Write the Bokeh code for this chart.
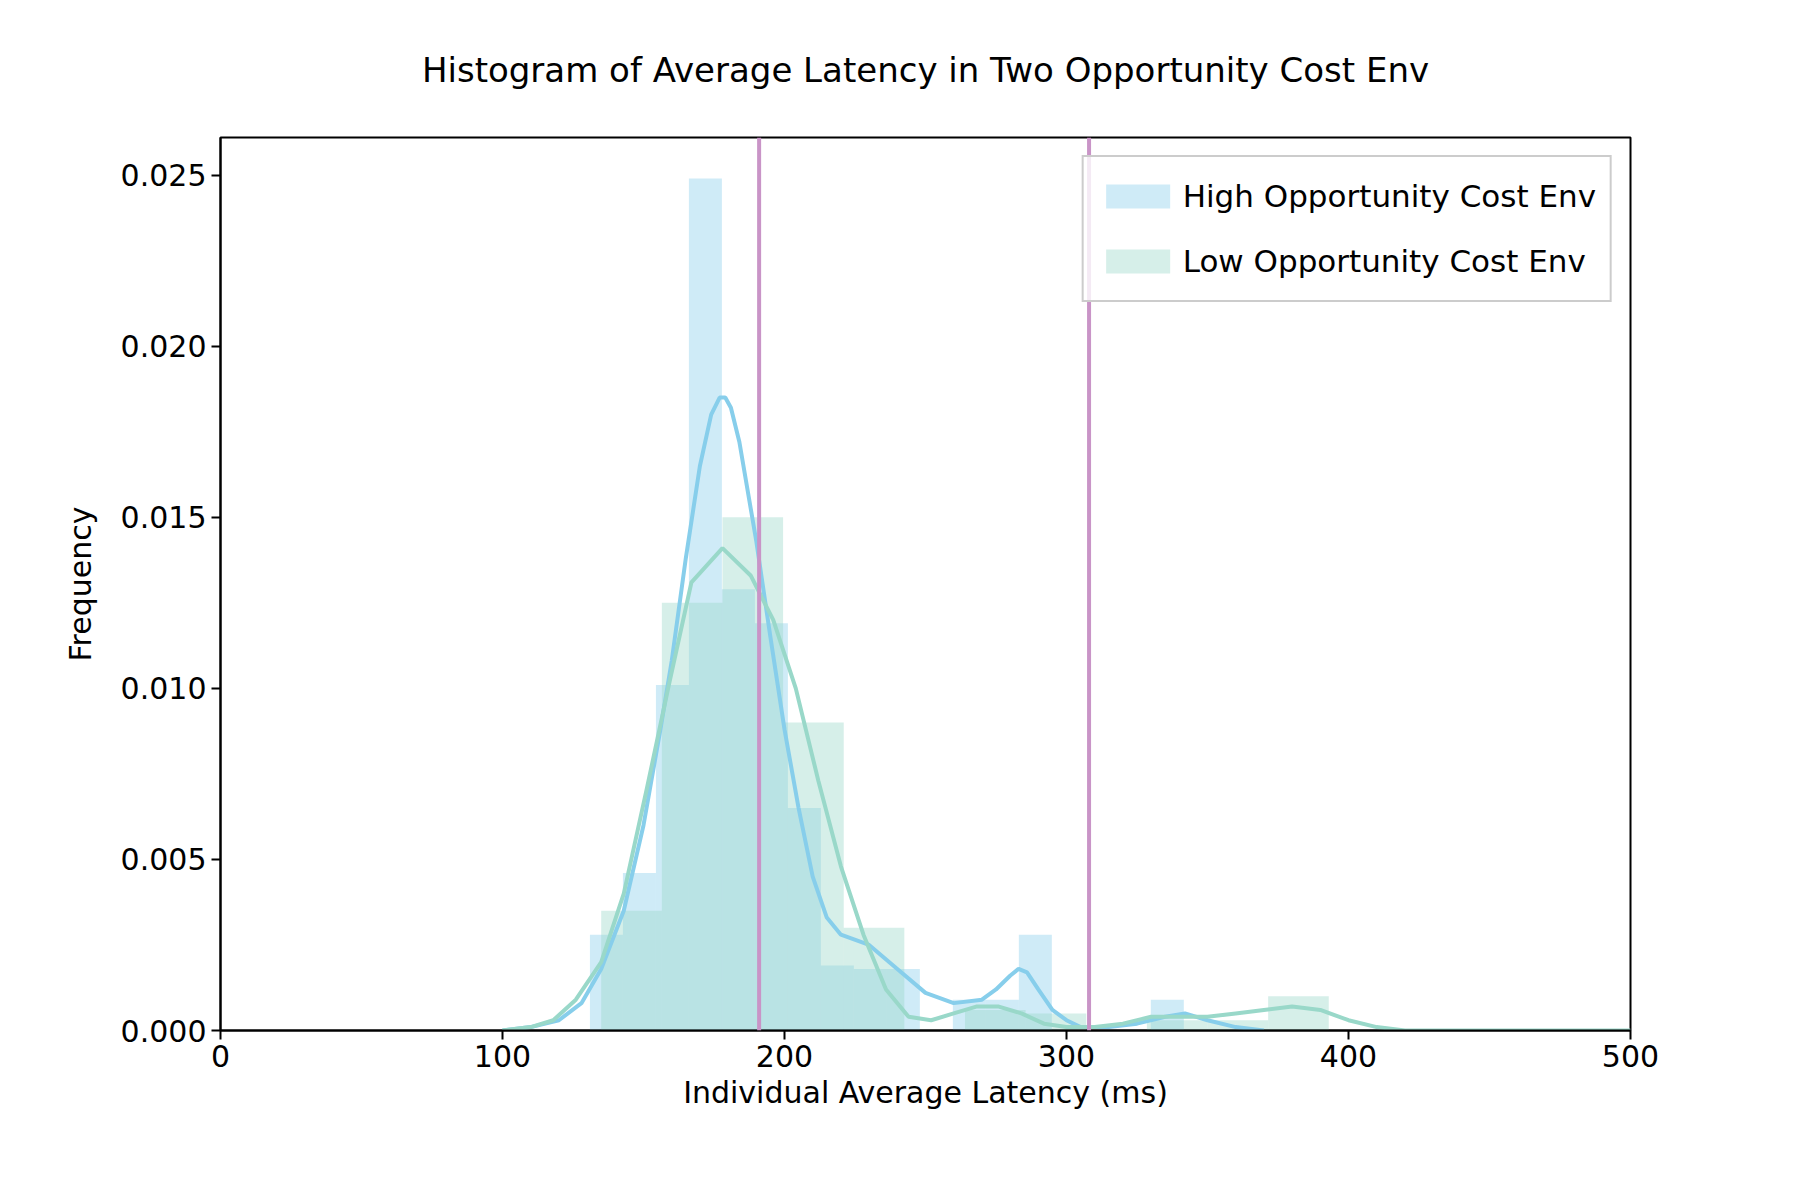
from bokeh.plotting import figure
from bokeh.models import Span, Legend, LegendItem, FixedTicker, CustomJSTickFormatter
from bokeh.embed import file_html
from bokeh.resources import INLINE

# histogram bins (left edges) and densities
high_left = [131, 142.7, 154.4, 166.1, 177.8, 189.5, 201.2, 212.9, 224.6, 236.3, 248, 259.7, 271.4, 283.1, 294.8, 306.5, 318.2, 329.9]
high_dens = [0.0028, 0.0046, 0.0101, 0.0249, 0.0129, 0.0119, 0.0065, 0.0019, 0.0018, 0.0018, 0.0, 0.0009, 0.0009, 0.0028, 0.0, 0.0, 0.0, 0.0009]
high_width = 11.7

low_left = [135, 156.5, 178, 199.5, 221, 242.5, 264, 285.5, 307, 328.5, 350, 371.5]
low_dens = [0.0035, 0.0125, 0.0150, 0.0090, 0.0030, 0.0, 0.0006, 0.0005, 0.0, 0.0003, 0.0003, 0.0010]
low_width = 21.5

# kde curves
high_kx = [100, 110, 120, 128, 135, 143, 150, 156, 160, 165, 170, 174, 177, 179, 181, 184, 190, 195, 200, 205, 210, 215, 220, 230, 240, 250, 260, 270, 275, 280, 283, 286, 290, 295, 300, 305, 315, 325, 335, 342, 350, 360, 370]
high_ky = [0.0, 0.0001, 0.0003, 0.0008, 0.0018, 0.0035, 0.006, 0.0088, 0.0108, 0.0138, 0.0165, 0.018, 0.0185, 0.0185, 0.0182, 0.0172, 0.0143, 0.0115, 0.0088, 0.0065, 0.0045, 0.0033, 0.0028, 0.0025, 0.0018, 0.0011, 0.0008, 0.0009, 0.0012, 0.0016, 0.0018, 0.0017, 0.0012, 0.0006, 0.0003, 0.0001, 0.0001, 0.0002, 0.0004, 0.0005, 0.0003, 0.0001, 0.0]
low_kx = [100, 110, 118, 126, 135, 143, 151, 159, 167, 178, 188, 196, 204, 212, 220, 228, 236, 244, 252, 260, 268, 276, 284, 292, 300, 310, 320, 330, 340, 350, 360, 370, 380, 390, 400, 410, 420, 440, 470, 500]
low_ky = [0.0, 0.0001, 0.0003, 0.0009, 0.002, 0.004, 0.007, 0.0101, 0.0131, 0.0141, 0.0133, 0.012, 0.01, 0.0073, 0.0048, 0.0028, 0.0012, 0.0004, 0.0003, 0.0005, 0.0007, 0.0007, 0.0005, 0.0002, 0.0001, 0.0001, 0.0002, 0.0004, 0.0004, 0.0004, 0.0005, 0.0006, 0.0007, 0.0006, 0.0003, 0.0001, 0.0, 0.0, 0.0, 0.0]

mean_lines = [191, 308]

FONT = "DejaVu Sans"
BLUE = "#87ceeb"
GREEN = "#99d8c9"

p = figure(width=1780, height=1180, x_range=(0, 500), y_range=(0, 0.0261),
           output_backend="svg", toolbar_location=None,
           title="Histogram of Average Latency in Two Opportunity Cost Env",
           x_axis_label="Individual Average Latency (ms)", y_axis_label="Frequency",
           min_border_left=220, min_border_right=150, min_border_top=40, min_border_bottom=150)

p.title.text_font = FONT
p.title.text_font_size = "34px"
p.title.text_font_style = "normal"
p.title.text_color = "black"
p.title.align = "center"
p.title.standoff = 95

p.grid.visible = False
p.outline_line_color = "black"
p.outline_line_width = 2
for ax in (p.xaxis[0], p.yaxis[0]):
    ax.axis_label_text_font = FONT
    ax.axis_label_text_font_size = "30px"
    ax.axis_label_text_font_style = "normal"
    ax.axis_label_text_color = "black"
    ax.major_label_text_font = FONT
    ax.major_label_text_font_size = "30px"
    ax.major_label_text_color = "black"
    ax.axis_line_width = 2
    ax.major_tick_line_width = 2
    ax.major_tick_out = 9
    ax.major_tick_in = 0
    ax.minor_tick_line_color = None
p.yaxis.axis_label_standoff = 20
p.xaxis.ticker = FixedTicker(ticks=[0, 100, 200, 300, 400, 500])
p.yaxis.ticker = FixedTicker(ticks=[0, 0.005, 0.01, 0.015, 0.02, 0.025])
p.yaxis.formatter = CustomJSTickFormatter(code="return tick.toFixed(3);")

hb = p.quad(left=high_left, right=[x + high_width for x in high_left], bottom=0, top=high_dens,
            fill_color=BLUE, fill_alpha=0.4, line_color=None)
lb = p.quad(left=low_left, right=[x + low_width for x in low_left], bottom=0, top=low_dens,
            fill_color=GREEN, fill_alpha=0.4, line_color=None)
p.line(high_kx, high_ky, line_color=BLUE, line_width=4)
p.line(low_kx, low_ky, line_color=GREEN, line_width=4)

for m in mean_lines:
    p.add_layout(Span(location=m, dimension="height", line_color="#c994c7", line_width=4))

legend = Legend(items=[LegendItem(label="High Opportunity Cost Env", renderers=[hb]),
                       LegendItem(label="Low Opportunity Cost Env", renderers=[lb])],
                location="top_right", label_text_font=FONT, label_text_font_size="31px",
                label_text_color="black",
                border_line_color="#cccccc", border_line_width=2, border_line_alpha=1,
                background_fill_alpha=0.8, glyph_width=80, glyph_height=30,
                label_height=50, spacing=15, padding=14, margin=18)
p.add_layout(legend)

open("out.html", "w").write(file_html(p, INLINE))
